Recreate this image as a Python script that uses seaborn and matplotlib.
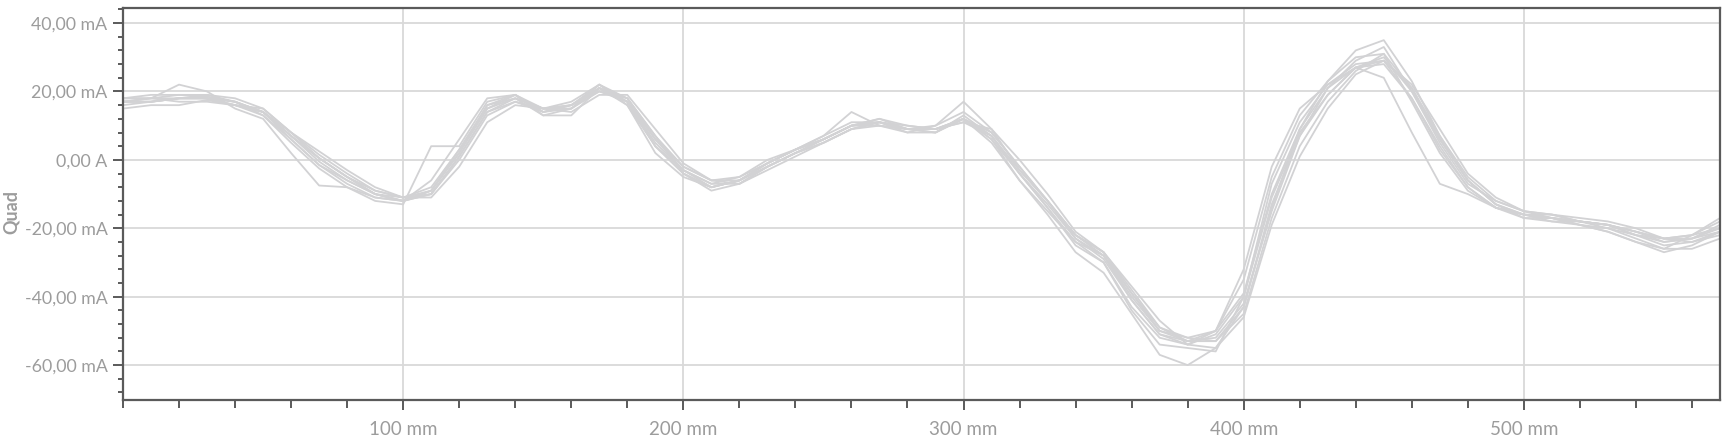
import numpy as np
import pandas as pd
import matplotlib
matplotlib.use("Agg")
import matplotlib.pyplot as plt
from matplotlib.ticker import MultipleLocator, FixedLocator, FixedFormatter
import seaborn as sns

# ---- data ----
position_mm = list(range(0, 580, 10))

run_01 = [18,19,19,18.5,17,13,5,-2.5,-8,-11, -12,-6,6,18,19,15,15,22,16,2, -5,-8,-6,-1,3,7,11,11,9,8, 12,5,-6,-15,-24,-30,-43,-52,-54,-50, -35,-5,13,23,30,31,17,2,-9,-14, -16,-16,-18,-19,-21,-23,-22,-18]
run_02 = [15,16,16,17.5,16,15,8,2.5,-3,-8, -11,-11,-2,11,16,15,14,19,19,9, -1,-6,-7,-3,1,5,9,11,10,9, 11,9,0,-10,-21,-27,-37,-47,-54,-55, -46,-19,1,15,25,29,22,9,-4,-11, -15,-17,-19,-20,-23,-26,-26,-23]
run_03 = [17,18,22,20,15,12,2,-7.5,-8,-12, -13,4,4,17,19,13,13,21,18,7, -4,-9,-7,-2,2,6,10,11,8,8, 13,7,-4,-14,-25,-30,-44,-54,-55,-56, -40,-7,11,22,28,29,21,6,-6,-13, -17,-18,-19,-21,-24,-27,-25,-21]
run_04 = [17,17,18,19,17,14,7,0.5,-5,-10, -12,-10,1,14,17,14,16,21,17,4, -3,-7,-5,-1,3,6,10,12,9,10, 14,8,-2,-12,-22,-27,-39,-49,-53,-52, -42,-15,7,21,27,24,8,-7,-10,-14, -16,-17,-18,-20,-22,-24,-23,-19]
run_05 = [18,18,17,17,16,14,7,0.5,-5,-9, -11,-9,2,15,18,15,16,22,17,6, -2,-6,-6,-2,2,6,10,10,9,9, 12,6,-6,-16,-27,-33,-45,-57,-60,-55, -43,-13,7,19,27,30,20,6,-6,-13, -16,-18,-18,-19,-22,-25,-24,-21]
run_06 = [17,17,18,18,17,14,7,-0.5,-6,-10, -11,-8,3,15,19,14,16,21,16,4, -4,-8,-6,-1,3,7,14,10,8,10, 17,9,-3,-12,-23,-28,-40,-50,-52,-50, -39,-10,9,21,29,33,20,5,-7,-12, -15,-16,-18,-19,-22,-23,-22,-17]
run_07 = [16,17,18,18,16,14,8,0.5,-5,-10, -12,-10,1,14,18,15,16,20,18,6, -3,-7,-7,-2,2,5,9,11,9,9, 12,8,-2,-12,-22,-28,-39,-50,-53,-53, -43,-14,9,23,32,35,23,7,-6,-13, -16,-17,-18,-19,-21,-23,-23,-20]
run_08 = [17,17,18,18,16,13,6,-1.5,-7,-11, -12,-9,2,16,19,14,15,21,17,5, -3,-8,-6,-1,3,6,10,11,9,9, 12,7,-4,-14,-24,-28,-41,-51,-53,-50, -32,-2,15,22,27,29,18,4,-8,-14, -17,-17,-18,-19,-21,-24,-23,-21]
run_09 = [17,18,19,19,18,15,8,1.5,-4,-9, -11,-10,0,13,17,15,17,22,18,7, -2,-6,-5,0,3,6,10,12,10,9, 11,7,-3,-12,-22,-27,-38,-49,-52,-53, -45,-17,4,17,26,31,21,7,-5,-12, -15,-16,-17,-18,-20,-23,-24,-22]
run_10 = [18,18,18,18,17,14,6,-1.5,-6,-10, -12,-9,3,16,18,13,15,20,17,4, -4,-8,-6,-2,2,5,9,10,9,8, 12,6,-4,-13,-23,-29,-41,-51,-54,-51, -40,-11,8,19,27,28,18,3,-8,-14, -16,-17,-19,-21,-24,-26,-22,-20]

runs = [run_01, run_02, run_03, run_04, run_05, run_06, run_07, run_08, run_09, run_10]

ytick_values = [-60, -40, -20, 0, 20, 40]
ytick_labels = ["-60,00 mA", "-40,00 mA", "-20,00 mA", "0,00 A", "20,00 mA", "40,00 mA"]
xtick_values = [100, 200, 300, 400, 500]
xtick_labels = ["100 mm", "200 mm", "300 mm", "400 mm", "500 mm"]
y_label = "Quad"

# ---- long-form table ----
frames = []
for i, r in enumerate(runs):
    frames.append(pd.DataFrame({"pos": position_mm, "current": r, "run": i}))
df = pd.concat(frames, ignore_index=True)

# ---- style ----
sns.set_theme(style="white")
plt.rcParams["font.family"] = ["Lato", "DejaVu Sans"]

fig = plt.figure(figsize=(17.25, 4.4), dpi=100)
ax = fig.add_axes([123/1725, 1 - 400/440, (1720 - 123)/1725, (400 - 8)/440])

sns.lineplot(data=df, x="pos", y="current", units="run", estimator=None,
             color="#d2d2d4", linewidth=1.3, ax=ax, legend=False, sort=False)

ax.set_xlim(0, 570)
ax.set_ylim(-70.2, 44.4)

ax.xaxis.set_major_locator(FixedLocator(xtick_values))
ax.xaxis.set_major_formatter(FixedFormatter(xtick_labels))
ax.xaxis.set_minor_locator(MultipleLocator(20))
ax.yaxis.set_major_locator(FixedLocator(ytick_values))
ax.yaxis.set_major_formatter(FixedFormatter(ytick_labels))
ax.yaxis.set_minor_locator(MultipleLocator(4))

ax.grid(True, which="major", color="#d9d9d9", linewidth=1.3)
ax.set_axisbelow(True)

spine_col = "#5a5a5a"
for s in ax.spines.values():
    s.set_color(spine_col)
    s.set_linewidth(1.6)

ax.tick_params(axis="both", which="both", direction="out", colors=spine_col,
               labelcolor="#9c9c9c", width=1.4)
ax.tick_params(axis="x", which="major", length=7.2, pad=8, bottom=True, labelsize=13.5)
ax.tick_params(axis="x", which="minor", length=5.5, bottom=True)
ax.tick_params(axis="y", which="major", length=7.2, pad=4, left=True, labelsize=12.8)
ax.tick_params(axis="y", which="minor", length=3.8, left=True)

ax.set_xlabel("")
ax.set_ylabel("")
fig.text(11/1725, 1 - 212/440, y_label, rotation=90, ha="center", va="center",
         fontsize=13, fontweight="bold", color="#9c9c9c")

fig.savefig("out.png", dpi=100)
